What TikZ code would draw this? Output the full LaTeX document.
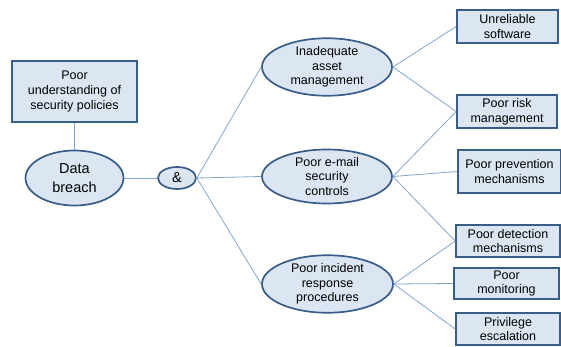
\documentclass[tikz,border=0pt]{standalone}
\usepackage{fontspec}
\setmainfont{Liberation Sans}
\usetikzlibrary{shapes.geometric}
\definecolor{fillb}{RGB}{220,230,242}
\definecolor{edgeb}{RGB}{56,93,138}
\definecolor{lineb}{RGB}{130,165,205}
\begin{document}
\begin{tikzpicture}[x=1pt,y=-1pt,
  boxn/.style={draw=edgeb,fill=fillb,line width=1.7pt,rectangle,inner sep=0pt,align=center,font=\fontsize{12.5}{14.8}\selectfont},
  elln/.style={draw=edgeb,fill=fillb,line width=1.7pt,ellipse,inner sep=0pt,align=center,font=\fontsize{12.5}{14.5}\selectfont},
  conn/.style={draw=lineb,line width=0.8pt}]
\useasboundingbox (0,0) rectangle (561,347);
\node[boxn,minimum width=125pt,minimum height=61pt] (und) at (74.5,91.5) {Poor\\understanding of\\security policies};
\node[elln,minimum width=98pt,minimum height=55pt,font=\fontsize{14.5}{19}\selectfont] (db) at (74.5,178) {Data\\breach};
\node[elln,minimum width=38pt,minimum height=22pt,font=\fontsize{14.5}{16}\selectfont] (amp) at (177,178) {\&};
\node[elln,minimum width=130pt,minimum height=55pt] (inad) at (327,67) {Inadequate\\asset\\management};
\node[elln,minimum width=130pt,minimum height=54pt] (mail) at (327,176.5) {Poor e-mail\\security\\controls};
\node[elln,minimum width=131pt,minimum height=56pt] (inc) at (327.5,284) {Poor incident\\response\\procedures};
\node[boxn,minimum width=101pt,minimum height=33pt] (unrel) at (507.5,26.5) {Unreliable\\software};
\node[boxn,minimum width=100pt,minimum height=33pt] (risk) at (507,111.5) {Poor risk\\management};
\node[boxn,minimum width=103pt,minimum height=43pt] (prev) at (509.5,171.5) {Poor prevention\\mechanisms};
\node[boxn,minimum width=104pt,minimum height=32pt] (det) at (508,241) {Poor detection\\mechanisms};
\node[boxn,minimum width=105pt,minimum height=31pt] (mon) at (506.5,283.5) {Poor\\monitoring};
\node[boxn,minimum width=104pt,minimum height=32pt] (priv) at (508,329) {Privilege\\escalation};
\path[conn] (und.south) -- (db.north);
\path[conn] (db.east) -- (amp.west);
\path[conn] (amp.east) -- (inad.west);
\path[conn] (amp.east) -- (mail.west);
\path[conn] (amp.east) -- (inc.west);
\path[conn] (inad.east) -- (unrel.west);
\path[conn] (inad.east) -- (risk.west);
\path[conn] (mail.east) -- (risk.west);
\path[conn] (mail.east) -- (prev.west);
\path[conn] (mail.east) -- (det.west);
\path[conn] (inc.east) -- (det.west);
\path[conn] (inc.east) -- (mon.west);
\path[conn] (inc.east) -- (priv.west);
\end{tikzpicture}
\end{document}
